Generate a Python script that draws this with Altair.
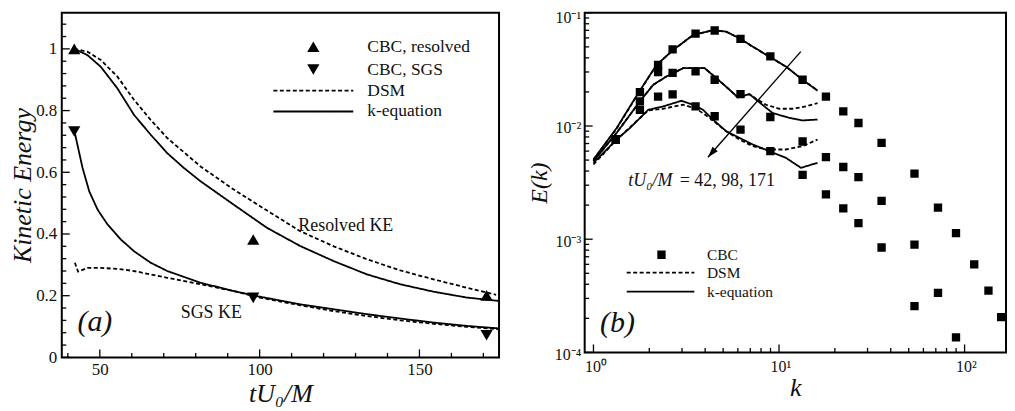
import altair as alt
import pandas as pd

# ---------------- Panel (a): kinetic energy decay ----------------
cbc_t = [42, 98, 171]
cbc_resolved_ke = [1.0, 0.382, 0.201]
cbc_sgs_ke = [0.732, 0.193, 0.072]

keq_res_t = [42.0, 46.1, 50.3, 55.5, 60.7, 65.9, 71.1, 76.3, 81.5, 91.9, 102.3, 112.7, 123.2, 133.6, 144.0, 154.4, 164.8, 174.9]
keq_res_ke = [1.0, 0.98, 0.942, 0.872, 0.786, 0.722, 0.662, 0.614, 0.571, 0.495, 0.420, 0.361, 0.312, 0.269, 0.237, 0.213, 0.194, 0.183]
dsm_res_t = [42.0, 46.1, 50.3, 55.5, 60.7, 65.9, 71.1, 81.5, 91.9, 102.3, 112.7, 123.2, 133.6, 144.0, 154.4, 164.8, 174.0]
dsm_res_ke = [1.0, 0.991, 0.964, 0.910, 0.835, 0.770, 0.711, 0.619, 0.544, 0.476, 0.409, 0.360, 0.318, 0.282, 0.253, 0.226, 0.203]
keq_sgs_t = [42.2, 43.0, 44.6, 46.7, 49.3, 52.4, 56.6, 60.7, 65.9, 71.1, 81.5, 91.9, 100.0, 112.7, 123.2, 133.6, 144.0, 154.4, 164.8, 174.9]
keq_sgs_ke = [0.727, 0.689, 0.614, 0.538, 0.479, 0.431, 0.382, 0.344, 0.307, 0.280, 0.242, 0.215, 0.197, 0.172, 0.156, 0.140, 0.126, 0.113, 0.102, 0.094]
dsm_sgs_t = [42.2, 43.2, 46.1, 50.3, 55.5, 60.7, 71.1, 81.5, 91.9, 100.0, 112.7, 123.2, 133.6, 144.0, 154.4, 164.8, 174.9]
dsm_sgs_ke = [0.307, 0.278, 0.290, 0.290, 0.287, 0.280, 0.258, 0.237, 0.215, 0.194, 0.169, 0.150, 0.134, 0.120, 0.109, 0.099, 0.091]

a_ticks_x_major = [50, 100, 150]
a_ticks_x_minor = [40, 60, 70, 80, 90, 110, 120, 130, 140, 160, 170]
a_ticks_y_major = [0.0, 0.2, 0.4, 0.6, 0.8, 1.0]
a_ticks_y_minor = [0.04, 0.08, 0.12, 0.16, 0.24, 0.28, 0.32, 0.36, 0.44, 0.48, 0.52, 0.56,
                   0.64, 0.68, 0.72, 0.76, 0.84, 0.88, 0.92, 0.96, 1.04, 1.08]

a_notes = ["Resolved KE", "SGS KE"]
a_notes_t = [112.1, 75.3]
a_notes_ke = [0.409, 0.129]
a_panel_label = "(a)"
a_panel_t = [43.0]
a_panel_ke = [0.086]

# legend (a), placed in data units of panel (a)
LEG_A = ["CBC, resolved", "CBC, SGS", "DSM", "k-equation"]
a_leg_rows_ke = [1.007, 0.933, 0.865, 0.797]
a_leg_marker_t = 116.8
a_leg_line_t = [104.3, 129.3]
a_leg_text_t = 133.7

# ---------------- Panel (b): energy spectra ----------------
cbc_k = [1.32, 1.78, 2.23, 2.67, 3.55, 4.5, 6.2, 8.98, 13.4, 17.9, 22.2, 26.8, 35.7, 53.7, 71.9, 89.9, 112.7, 134.5, 157.4, 181.0]
cbc_E42 = [7.6e-3, 0.0199, 0.0346, 0.0475, 0.0655, 0.0697, 0.0588, 0.0412, 0.0256, 0.0182, 0.01346, 0.01062, 0.0071, 0.00379, 0.0019, 0.00113, 0.0006, 0.000352, 0.000205, 0.000121]
cbc_E98 = [7.6e-3, 0.0165, 0.0300, 0.0295, 0.0304, 0.0256, 0.0191, 0.0120, 0.0073, 0.00531, 0.00434, 0.00354, 0.00218, 0.000897, 0.000336, 0.000136]
cbc_E171 = [7.6e-3, 0.0139, 0.0182, 0.0190, 0.0149, 0.0122, 0.0093, 0.0060, 0.0037, 0.00249, 0.001875, 0.001387, 0.000845, 0.000256]

keq42_k = [1.0, 1.334, 1.743, 2.187, 2.687, 3.441, 4.405, 5.194, 6.124, 7.222, 8.876, 10.9, 13.4, 16.13]
keq42_E = [0.00506, 0.0096, 0.0195, 0.0346, 0.0469, 0.0636, 0.0704, 0.0681, 0.0595, 0.0502, 0.0410, 0.0335, 0.0256, 0.0205]
dsm42_k = [1.0, 1.334, 1.743, 2.187, 2.687, 3.441, 4.405, 5.194, 6.124, 7.222, 8.876, 10.9, 13.4, 16.13]
dsm42_E = [0.00503, 0.0095, 0.0194, 0.0345, 0.0468, 0.0635, 0.0703, 0.0680, 0.0594, 0.0501, 0.0409, 0.0334, 0.0256, 0.0206]
keq98_k = [1.0, 1.334, 1.779, 2.099, 2.475, 3.041, 3.974, 4.59, 5.413, 6.0, 6.929, 7.526, 9.247, 11.36, 13.4, 16.13]
keq98_E = [0.00489, 0.0087, 0.0165, 0.0231, 0.0274, 0.0324, 0.0324, 0.0265, 0.0209, 0.0179, 0.0191, 0.0171, 0.0130, 0.0118, 0.0112, 0.0114]
dsm98_k = [1.0, 1.334, 1.779, 2.099, 2.475, 3.041, 3.974, 4.59, 5.413, 6.0, 6.929, 7.526, 8.516, 10.04, 11.84, 13.96, 16.13]
dsm98_E = [0.00489, 0.0087, 0.0165, 0.0231, 0.0274, 0.0324, 0.0324, 0.0265, 0.0209, 0.0179, 0.0191, 0.0174, 0.0154, 0.0142, 0.0142, 0.0149, 0.0159]
keq171_k = [1.0, 1.334, 1.573, 1.972, 2.374, 2.979, 3.441, 3.894, 4.405, 5.194, 6.124, 7.222, 8.876, 10.9, 13.13, 16.13]
keq171_E = [0.00473, 0.00759, 0.0096, 0.0139, 0.0149, 0.0167, 0.0154, 0.0139, 0.0114, 0.00898, 0.00785, 0.00686, 0.00599, 0.00523, 0.00427, 0.00473]
dsm171_k = [1.0, 1.334, 1.972, 2.374, 3.041, 3.585, 4.227, 5.194, 6.124, 7.222, 8.516, 10.9, 13.4, 16.13]
dsm171_E = [0.00457, 0.00759, 0.0137, 0.0142, 0.0154, 0.0142, 0.0118, 0.00898, 0.00759, 0.00663, 0.0062, 0.0062, 0.00663, 0.00759]

arrow_k = [13.1, 4.14]
arrow_E = [0.0454, 0.0053]
b_note_main = "tU\u2080/M"
b_note_vals = "= 42, 98, 171"
b_note_k = [1.542, 2.916]
b_note_E = [2.95e-3, 2.95e-3]
b_panel_label = "(b)"
b_panel_k = [1.085]
b_panel_E = [1.51e-4]

# legend (b), placed in data units of panel (b)
LEG_B = ["CBC", "DSM", "k-equation"]
b_leg_rows_E = [7.29e-4, 5.06e-4, 3.45e-4]
b_leg_marker_k = 2.326
b_leg_line_k = [1.511, 3.498]
b_leg_text_k = 4.09

b_ticks_x_major = [1, 10, 100]
b_ticks_x_labels = ["10\u2070", "10\u00b9", "10\u00b2"]
b_ticks_x_minor = [2, 3, 4, 5, 6, 7, 8, 9, 20, 30, 40, 50, 60, 70, 80, 90]
b_ticks_y_major = [1e-4, 1e-3, 1e-2, 1e-1]
b_ticks_y_labels = ["10\u207b\u2074", "10\u207b\u00b3", "10\u207b\u00b2", "10\u207b\u00b9"]
b_ticks_y_minor = [m * d for d in (1e-4, 1e-3, 1e-2) for m in range(2, 10)]

# ---------------- styling ----------------
FONT = "Liberation Serif"
INK = "#111111"
WA, HA = 439, 346
WB, HB = 423, 341
XA_DOM = [38.1, 174.9]
YA_DOM = [0.0, 1.117]
XB_DOM = [0.897, 167.2]
YB_DOM = [1e-4, 1e-1]
LW = 1.8
DASH = [4, 2.5]
SHAPES_A = ["triangle-up", "triangle-down"]
DASHES_A = [DASH, [1, 0]]
TRI_SIZE = 150


def label_expr(vals, labels):
    parts = [f"abs(datum.value - {v}) < {v / 1000.0} ? '{l}'" for v, l in zip(vals, labels)]
    return " : ".join(parts) + " : ''"


# ---------------- data tables ----------------
pts_a = pd.DataFrame(
    [{"x": t, "y": v, "leg": LEG_A[0]} for t, v in zip(cbc_t, cbc_resolved_ke)]
    + [{"x": t, "y": v, "leg": LEG_A[1]} for t, v in zip(cbc_t, cbc_sgs_ke)]
)
lines_a = pd.DataFrame(
    [{"x": t, "y": v, "leg": "k-equation", "curve": "res_keq"} for t, v in zip(keq_res_t, keq_res_ke)]
    + [{"x": t, "y": v, "leg": "DSM", "curve": "res_dsm"} for t, v in zip(dsm_res_t, dsm_res_ke)]
    + [{"x": t, "y": v, "leg": "k-equation", "curve": "sgs_keq"} for t, v in zip(keq_sgs_t, keq_sgs_ke)]
    + [{"x": t, "y": v, "leg": "DSM", "curve": "sgs_dsm"} for t, v in zip(dsm_sgs_t, dsm_sgs_ke)]
)
leg_a_pts = pd.DataFrame({"x": [a_leg_marker_t] * 2, "y": a_leg_rows_ke[:2], "leg": LEG_A[:2]})
leg_a_lines = pd.DataFrame(
    [{"x": t, "y": a_leg_rows_ke[i], "leg": LEG_A[i], "curve": "leg" + str(i)}
     for i in (2, 3) for t in a_leg_line_t]
)
leg_a_text = pd.DataFrame({"x": [a_leg_text_t] * 4, "y": a_leg_rows_ke, "label": LEG_A})
notes_a = pd.DataFrame({"x": a_notes_t, "y": a_notes_ke, "label": a_notes})
panel_a = pd.DataFrame({"x": a_panel_t, "y": a_panel_ke, "label": [a_panel_label]})

pts_b = pd.DataFrame(
    [{"x": k, "y": e} for k, e in zip(cbc_k, cbc_E42)]
    + [{"x": k, "y": e} for k, e in zip(cbc_k, cbc_E98)]
    + [{"x": k, "y": e} for k, e in zip(cbc_k, cbc_E171)]
    + [{"x": b_leg_marker_k, "y": b_leg_rows_E[0]}]
)
lines_b = pd.DataFrame(
    [{"x": k, "y": e, "leg": "DSM", "curve": "d42"} for k, e in zip(dsm42_k, dsm42_E)]
    + [{"x": k, "y": e, "leg": "DSM", "curve": "d98"} for k, e in zip(dsm98_k, dsm98_E)]
    + [{"x": k, "y": e, "leg": "DSM", "curve": "d171"} for k, e in zip(dsm171_k, dsm171_E)]
    + [{"x": k, "y": e, "leg": "k-equation", "curve": "k42"} for k, e in zip(keq42_k, keq42_E)]
    + [{"x": k, "y": e, "leg": "k-equation", "curve": "k98"} for k, e in zip(keq98_k, keq98_E)]
    + [{"x": k, "y": e, "leg": "k-equation", "curve": "k171"} for k, e in zip(keq171_k, keq171_E)]
    + [{"x": k, "y": b_leg_rows_E[i], "leg": LEG_B[i], "curve": "leg" + str(i)}
       for i in (1, 2) for k in b_leg_line_k]
)
leg_b_text = pd.DataFrame({"x": [b_leg_text_k] * 3, "y": b_leg_rows_E, "label": LEG_B})
arrow_b = pd.DataFrame({"x": arrow_k, "y": arrow_E})
arrow_head_b = pd.DataFrame({"x": arrow_k[-1:], "y": arrow_E[-1:]})
note_b1 = pd.DataFrame({"x": b_note_k[:1], "y": b_note_E[:1], "label": [b_note_main]})
note_b2 = pd.DataFrame({"x": b_note_k[1:], "y": b_note_E[1:], "label": [b_note_vals]})
panel_b = pd.DataFrame({"x": b_panel_k, "y": b_panel_E, "label": [b_panel_label]})

# ---------------- scales / axes ----------------
sxa = alt.Scale(domain=XA_DOM, nice=False, zero=False)
sya = alt.Scale(domain=YA_DOM, nice=False, zero=False)
sxb = alt.Scale(type="log", domain=XB_DOM, nice=False)
syb = alt.Scale(type="log", domain=YB_DOM, nice=False)

axis_common = dict(ticks=False, domain=False, grid=False, labelFont=FONT, labelColor=INK,
                   titleFont=FONT, titleFontStyle="italic", titleFontWeight="normal", titleColor=INK)

ax_xa = alt.Axis(values=a_ticks_x_major, format="d", title="tU\u2080/M", labelFontSize=17,
                 titleFontSize=26, labelPadding=4, titlePadding=3, **axis_common)
ax_ya = alt.Axis(values=a_ticks_y_major, format="~g", title="Kinetic Energy", labelFontSize=17,
                 titleFontSize=26, labelPadding=5, titlePadding=0, **axis_common)
ax_xb = alt.Axis(values=b_ticks_x_major, labelExpr=label_expr(b_ticks_x_major, b_ticks_x_labels),
                 title="k", labelFontSize=16, titleFontSize=26, labelPadding=6, titlePadding=0,
                 labelAlign="left", labelOffset=-9, **axis_common)
top_test = f"datum.value > {b_ticks_y_major[-1] / 2}"
ax_yb = alt.Axis(values=b_ticks_y_major, labelExpr=label_expr(b_ticks_y_major, b_ticks_y_labels),
                 title="E(k)", labelFontSize=16, titleFontSize=24, labelPadding=4, titlePadding=3,
                 labelBaseline={"condition": {"test": top_test, "value": "top"}, "value": "middle"},
                 labelOffset={"condition": {"test": top_test, "value": -3}, "value": 2},
                 **axis_common)


def XA(field="x:Q"):
    return alt.X(field, scale=sxa, axis=ax_xa)


def YA(field="y:Q"):
    return alt.Y(field, scale=sya, axis=ax_ya)


def XB(field="x:Q"):
    return alt.X(field, scale=sxb, axis=ax_xb)


def YB(field="y:Q"):
    return alt.Y(field, scale=syb, axis=ax_yb)


def rule_ticks(values, xenc, yenc, axis_ch, length, H):
    df = pd.DataFrame({"x": values, "y": values})
    if axis_ch == "x":
        return alt.Chart(df).mark_rule(color="black", strokeWidth=1.3).encode(
            x=xenc(), y=alt.value(H), y2=alt.value(H - length))
    return alt.Chart(df).mark_rule(color="black", strokeWidth=1.3).encode(
        y=yenc(), x=alt.value(0), x2=alt.value(length))


shape_a = alt.Shape("leg:N", scale=alt.Scale(domain=LEG_A[:2], range=SHAPES_A), legend=None)
dash_a = alt.StrokeDash("leg:N", scale=alt.Scale(domain=LEG_A[2:], range=DASHES_A), legend=None)
dash_b = alt.StrokeDash("leg:N", scale=alt.Scale(domain=LEG_B[1:], range=DASHES_A), legend=None)


def text_layer(df, xenc, yenc, size, italic=False, baseline="alphabetic"):
    kw = dict(font=FONT, fontSize=size, color=INK, align="left", baseline=baseline)
    if italic:
        kw["fontStyle"] = "italic"
    return alt.Chart(df).mark_text(**kw).encode(x=xenc(), y=yenc(), text="label:N")


# ---------------- panel (a) ----------------
a_lines = alt.Chart(lines_a).mark_line(color="black", strokeWidth=LW, clip=True).encode(
    x=XA(), y=YA(), strokeDash=dash_a, detail="curve:N")
a_leg_lines = alt.Chart(leg_a_lines).mark_line(color="black", strokeWidth=LW).encode(
    x=XA(), y=YA(), strokeDash=dash_a, detail="curve:N")
a_points = alt.Chart(pts_a).mark_point(filled=True, color="black", opacity=1, size=TRI_SIZE).encode(
    x=XA(), y=YA(), shape=shape_a)
a_leg_points = alt.Chart(leg_a_pts).mark_point(filled=True, color="black", opacity=1, size=TRI_SIZE).encode(
    x=XA(), y=YA(), shape=shape_a)

left = alt.layer(
    a_lines, a_leg_lines, a_points, a_leg_points,
    text_layer(leg_a_text, XA, YA, 17.5, baseline="middle"),
    text_layer(notes_a, XA, YA, 18),
    text_layer(panel_a, XA, YA, 30, italic=True),
    rule_ticks(a_ticks_x_major, XA, YA, "x", 8, HA),
    rule_ticks(a_ticks_x_minor, XA, YA, "x", 4.5, HA),
    rule_ticks(a_ticks_y_major, XA, YA, "y", 8, HA),
    rule_ticks(a_ticks_y_minor, XA, YA, "y", 4.5, HA),
).properties(width=WA, height=HA)

# ---------------- panel (b) ----------------
b_lines = alt.Chart(lines_b).mark_line(color="black", strokeWidth=LW, clip=True).encode(
    x=XB(), y=YB(), strokeDash=dash_b, detail="curve:N")
b_points = alt.Chart(pts_b).mark_point(shape="square", filled=True, color="black", opacity=1, size=70,
                                       clip=True).encode(x=XB(), y=YB())
b_arrow = alt.Chart(arrow_b).mark_line(color="black", strokeWidth=1.4).encode(x=XB(), y=YB())
b_head = alt.Chart(arrow_head_b).mark_point(shape="M0,0L-0.35,1.1L0.35,1.1Z", filled=True, color="black",
                                            opacity=1, size=400, angle=221.4).encode(x=XB(), y=YB())

right = alt.layer(
    b_lines, b_points, b_arrow, b_head,
    text_layer(leg_b_text, XB, YB, 15.5, baseline="middle"),
    text_layer(note_b1, XB, YB, 18, italic=True),
    text_layer(note_b2, XB, YB, 18),
    text_layer(panel_b, XB, YB, 30, italic=True),
    rule_ticks(b_ticks_x_major, XB, YB, "x", 8, HB),
    rule_ticks(b_ticks_x_minor, XB, YB, "x", 4.5, HB),
    rule_ticks(b_ticks_y_major, XB, YB, "y", 8, HB),
    rule_ticks(b_ticks_y_minor, XB, YB, "y", 4.5, HB),
).properties(width=WB, height=HB)

chart = alt.hconcat(left, right, spacing=26).resolve_scale(
    shape="independent", strokeDash="independent", x="independent", y="independent"
).properties(
    padding={"left": 0, "top": 0, "right": 0, "bottom": 0},
    background="white",
).configure_view(stroke="black", strokeWidth=2)

chart.save("out.html", embed_options={"renderer": "svg", "actions": False})
